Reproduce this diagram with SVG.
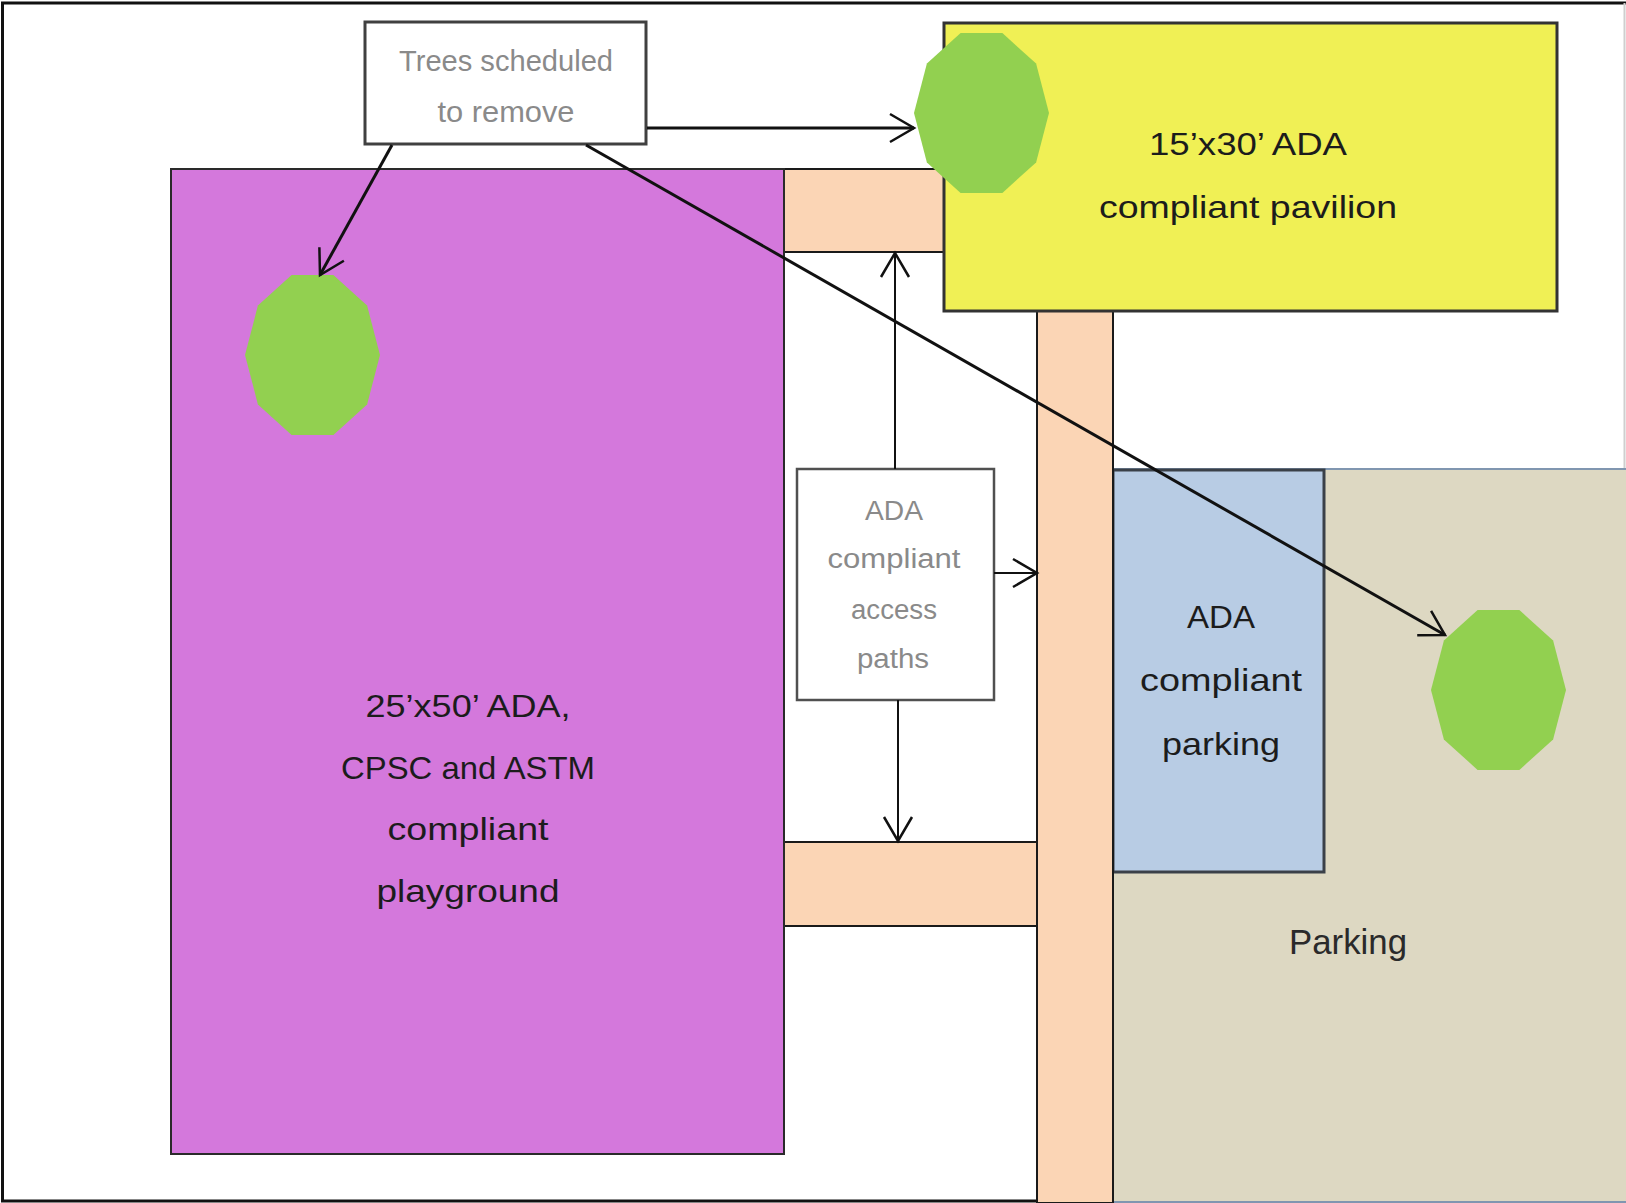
<svg xmlns="http://www.w3.org/2000/svg" width="1626" height="1203" viewBox="0 0 1626 1203">
  <style>
    .lbl { font-family: "Liberation Sans", Arial, sans-serif; text-anchor: middle; }
    .dark { fill: #1c1c1c; font-size: 32px; }
    .gray { fill: #8a8a8a; }
    .peach { fill: #FBD5B5; stroke: #1a1a1a; stroke-width: 2; }
    .conn { fill: none; stroke: #111; stroke-width: 3; marker-end: url(#arr); }
    .thin { stroke-width: 2; }
    .tree { fill: #92D050; }
    .frame { stroke: #111; stroke-width: 3; }
  </style>
  <defs>
    <marker id="arr" markerUnits="userSpaceOnUse" markerWidth="32" markerHeight="32" refX="28" refY="16" orient="auto" overflow="visible">
      <path d="M4,2 L28,16 L4,30" fill="none" stroke="#111" stroke-width="2.5"/>
    </marker>
    <polygon id="treeShape" points="67.5,0 54.6,-49.4 20.9,-79.9 -20.9,-79.9 -54.6,-49.4 -67.5,0 -54.6,49.4 -20.9,79.9 20.9,79.9 54.6,49.4"/>
  </defs>

  <rect x="0" y="0" width="1626" height="1203" fill="#ffffff"/>
  <g id="frame">
    <line class="frame" x1="1" y1="3" x2="1626" y2="3" stroke-width="4"/>
    <line class="frame" x1="2.5" y1="3" x2="2.5" y2="1201"/>
    <line class="frame" x1="1" y1="1201" x2="1626" y2="1201"/>
    <line x1="1624.5" y1="3" x2="1624.5" y2="1201" stroke="#cfcfcf" stroke-width="2"/>
  </g>

  <g id="parking">
    <rect x="1113" y="469" width="515" height="733" fill="#DDD8C2" stroke="#8096B0" stroke-width="2"/>
    <text class="lbl" x="1348" y="954" font-size="35" fill="#2a2a2a" textLength="118" lengthAdjust="spacingAndGlyphs">Parking</text>
  </g>

  <g id="ada-parking">
    <rect x="1113" y="470" width="211" height="402" fill="#B8CCE4" stroke="#3A4048" stroke-width="3"/>
    <text class="lbl dark" x="1221" y="628" textLength="68" lengthAdjust="spacingAndGlyphs">ADA</text>
    <text class="lbl dark" x="1221" y="691" textLength="162" lengthAdjust="spacingAndGlyphs">compliant</text>
    <text class="lbl dark" x="1221" y="755" textLength="118" lengthAdjust="spacingAndGlyphs">parking</text>
  </g>

  <g id="path-top">
    <rect class="peach" x="784" y="169" width="162" height="83"/>
  </g>
  <g id="path-vertical">
    <rect class="peach" x="1037" y="311" width="76" height="892"/>
  </g>
  <g id="path-bottom">
    <rect class="peach" x="784" y="842" width="253" height="84"/>
  </g>

  <g id="playground">
    <rect x="171" y="169" width="613" height="985" fill="#D478DC" stroke="#2a2a2a" stroke-width="2"/>
    <text class="lbl dark" x="468" y="717" textLength="205" lengthAdjust="spacingAndGlyphs">25’x50’ ADA,</text>
    <text class="lbl dark" x="468" y="779" textLength="254" lengthAdjust="spacingAndGlyphs">CPSC and ASTM</text>
    <text class="lbl dark" x="468" y="840" textLength="161" lengthAdjust="spacingAndGlyphs">compliant</text>
    <text class="lbl dark" x="468" y="902" textLength="183" lengthAdjust="spacingAndGlyphs">playground</text>
  </g>

  <g id="pavilion">
    <rect x="944" y="23" width="613" height="288" fill="#F0F055" stroke="#333" stroke-width="3"/>
    <text class="lbl dark" x="1248" y="155" textLength="198" lengthAdjust="spacingAndGlyphs">15’x30’ ADA</text>
    <text class="lbl dark" x="1248" y="218" textLength="298" lengthAdjust="spacingAndGlyphs">compliant pavilion</text>
  </g>

  <g id="tree-1"><use href="#treeShape" class="tree" x="312.5" y="355"/></g>
  <g id="tree-2"><use href="#treeShape" class="tree" x="981.5" y="113"/></g>
  <g id="tree-3"><use href="#treeShape" class="tree" x="1498.5" y="690"/></g>

  <g id="trees-label">
    <rect x="365" y="22" width="281" height="122" fill="#fff" stroke="#404040" stroke-width="3"/>
    <text class="lbl gray" x="506" y="71" font-size="30" textLength="214" lengthAdjust="spacingAndGlyphs">Trees scheduled</text>
    <text class="lbl gray" x="506" y="122" font-size="30" textLength="137" lengthAdjust="spacingAndGlyphs">to remove</text>
  </g>

  <g id="access-label">
    <rect x="797" y="469" width="197" height="231" fill="#fff" stroke="#505050" stroke-width="2.5"/>
    <text class="lbl gray" x="894" y="520" font-size="27" textLength="58" lengthAdjust="spacingAndGlyphs">ADA</text>
    <text class="lbl gray" x="894" y="568" font-size="27" textLength="133" lengthAdjust="spacingAndGlyphs">compliant</text>
    <text class="lbl gray" x="894" y="619" font-size="27" textLength="86" lengthAdjust="spacingAndGlyphs">access</text>
    <text class="lbl gray" x="893" y="668" font-size="27" textLength="72" lengthAdjust="spacingAndGlyphs">paths</text>
  </g>

  <g id="connectors">
    <line class="conn" x1="392" y1="145" x2="320" y2="275"/>
    <line class="conn" x1="647" y1="128" x2="914" y2="128" stroke="#333"/>
    <line class="conn" x1="586" y1="145" x2="1445" y2="635"/>
    <line class="conn thin" x1="895" y1="469" x2="895" y2="253"/>
    <line class="conn thin" x1="994" y1="573" x2="1037" y2="573"/>
    <line class="conn thin" x1="898" y1="700" x2="898" y2="841"/>
  </g>
</svg>
